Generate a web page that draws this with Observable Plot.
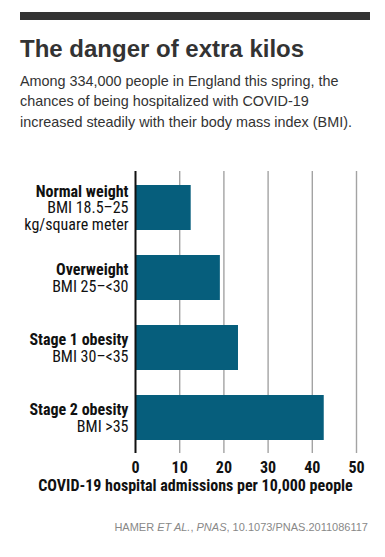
<!DOCTYPE html>
<html>
<head>
<meta charset="utf-8">
<script src="https://cdn.jsdelivr.net/npm/d3@7"></script>
<script src="https://cdn.jsdelivr.net/npm/@observablehq/plot@0.6"></script>
<style>
  html, body { margin: 0; padding: 0; background: #fff; }
  #page { position: relative; width: 385px; height: 557px; overflow: hidden; }
  #topbar { position: absolute; left: 20px; top: 12px; width: 350px; height: 8px; background: #333; }
  #title { position: absolute; left: 20px; top: 36.7px; font: bold 24px/24px "Liberation Sans", Arial, sans-serif; color: #333; white-space: nowrap; }
  #subtitle { position: absolute; left: 20px; top: 70.5px; font: 14.4px/20.8px "Liberation Sans", Arial, sans-serif; color: #333; white-space: nowrap; }
  #chart { position: absolute; left: 0; top: 150px; }
  #source { position: absolute; right: 17px; top: 521.4px; font: 11px/13px "Liberation Sans", Arial, sans-serif; color: #888; white-space: nowrap; }
</style>
</head>
<body>
<div id="page">
  <div id="topbar"></div>
  <div id="title">The danger of extra kilos</div>
  <div id="subtitle">Among 334,000 people in England this spring, the<br>chances of being hospitalized with COVID-19<br>increased steadily with their body mass index (BMI).</div>
  <div id="chart"></div>
  <div id="source">HAMER <i>ET AL.</i>, <i>PNAS</i>, 10.1073/PNAS.2011086117</div>
</div>
<script>
const categories = ["Normal weight", "Overweight", "Stage 1 obesity", "Stage 2 obesity"];
const bmiLabels = ["BMI 18.5–25\nkg/square meter", "BMI 25–<30", "BMI 30–<35", "BMI >35"];
const admissions = [12.6, 19.2, 23.3, 42.7];
const xTicks = [0, 10, 20, 30, 40, 50];
const xLabel = "COVID-19 hospital admissions per 10,000 people";

const font = '"Liberation Sans Narrow", "Roboto Condensed", "DejaVu Sans Condensed", sans-serif';
const rows = categories.map((c, i) => ({category: c, value: admissions[i], bmi: bmiLabels[i]}));
const nLines = r => 1 + r.bmi.split("\n").length;
const lh = 16.8;

const labelOpts = {
  y: "category", frameAnchor: "left", dx: -7, textAnchor: "end", lineAnchor: "middle",
  lineHeight: 1.05, fontSize: 16, fill: "#111"
};

const chart = Plot.plot({
  width: 385,
  height: 350,
  marginTop: 21,
  marginBottom: 47,
  marginLeft: 135,
  marginRight: 29,
  style: {fontFamily: font, fontSize: "16px", fontWeight: "bold", color: "#111", background: "transparent"},
  x: {domain: [0, 50], ticks: xTicks, tickSize: 0, tickPadding: 8, label: null},
  y: {domain: categories, paddingInner: 0.36, paddingOuter: 0.19, axis: null},
  marks: [
    Plot.ruleX(xTicks.filter(t => t > 0), {stroke: "#a3a3a3", strokeWidth: 1.4}),
    Plot.barX(rows, {x: "value", y: "category", fill: "#065e7c"}),
    Plot.ruleX([0], {stroke: "#111", strokeWidth: 2}),
    Plot.text(rows.filter(r => nLines(r) === 3), {...labelOpts, fontWeight: "bold", dy: -lh, text: "category"}),
    Plot.text(rows.filter(r => nLines(r) === 2), {...labelOpts, fontWeight: "bold", dy: -lh / 2, text: "category"}),
    Plot.text(rows, {...labelOpts, fontWeight: "normal", dy: lh / 2, text: "bmi"}),
    Plot.text([xLabel], {
      frameAnchor: "bottom-left", dx: 60, dy: 37.7, textAnchor: "middle", lineAnchor: "bottom",
      fontSize: 16, fontWeight: "bold", fill: "#111", text: d => d
    })
  ]
});
document.getElementById("chart").appendChild(chart);
</script>
</body>
</html>
